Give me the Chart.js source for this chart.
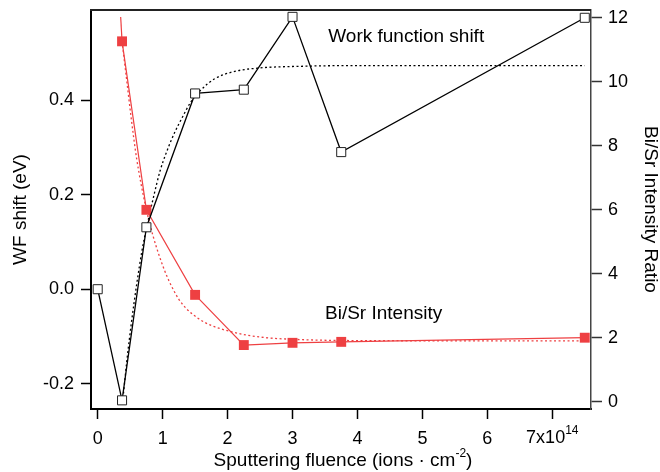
<!DOCTYPE html>
<html>
<head>
<meta charset="utf-8">
<script src="https://cdn.jsdelivr.net/npm/chart.js@4.4.1/dist/chart.umd.min.js"></script>
<style>
html, body { margin: 0; padding: 0; background: #fff; }
</style>
</head>
<body>
<canvas id="myChart" width="660" height="472"></canvas>
<script>
'use strict'
// ==> data
let fluence = [0, 0.375, 0.75, 1.5, 2.25, 3, 3.75, 7.5];
let wfShift = [0.0, -0.235, 0.131, 0.414, 0.422, 0.576, 0.29, 0.574];

let ratioX = [0.375, 0.75, 1.5, 2.25, 3, 3.75, 7.5];
let ratio = [11.27, 6.0, 3.34, 1.77, 1.84, 1.87, 2.0];
// short solid red piece above the first marker
let ratioLeadX = [0.354, 0.375];
let ratioLead = [12.03, 11.27];

// dotted fit curves
let wfFitX = [0.39, 0.45, 0.52, 0.6, 0.68, 0.76, 0.86, 0.96, 1.06, 1.18, 1.29, 1.43, 1.58, 1.8, 2.09, 2.5, 3, 4, 7.5];
let wfFit = [-0.23, -0.15, -0.07, 0.01, 0.08, 0.135, 0.195, 0.25, 0.29, 0.33, 0.36, 0.395, 0.42, 0.445, 0.46, 0.468, 0.471, 0.473, 0.473];
let ratioFitX = [0.375, 0.45, 0.514, 0.6, 0.75, 0.85, 0.95, 1.05, 1.14, 1.25, 1.37, 1.55, 1.73, 2.09, 2.5, 3, 4, 7.5];
let ratioFit = [11.27, 10.0, 8.9, 7.6, 6.0, 5.2, 4.55, 4.0, 3.6, 3.2, 2.9, 2.6, 2.4, 2.17, 2.02, 1.95, 1.91, 1.9];

let xTicks = [0, 1, 2, 3, 4, 5, 6, 7];
let wfTicks = [-0.2, 0.0, 0.2, 0.4];
let ratioTicks = [0, 2, 4, 6, 8, 10, 12];
//__________________________________________________________________________________==<
let fontFam = '"Liberation Sans", Arial, Helvetica, sans-serif';
let red = 'rgb(238, 64, 66)';

function pairs(xs, ys) {
    return xs.map((x, i) => ({ x: x, y: ys[i] }));
}

function drawParts(ctx, parts, cx, baseY) {
    let total = 0;
    parts.forEach(p => {
        ctx.font = p.size + 'px ' + fontFam;
        p.w = ctx.measureText(p.t).width;
        total += p.w;
    });
    let x = cx - total / 2;
    ctx.textAlign = 'left';
    ctx.textBaseline = 'alphabetic';
    parts.forEach(p => {
        ctx.font = p.size + 'px ' + fontFam;
        ctx.fillText(p.t, x, baseY - p.rise);
        x += p.w;
    });
}

let decorPlugin = {
    id: 'decor',
    afterDraw(chart) {
        let ctx = chart.ctx;
        let a = chart.chartArea;
        let xs = chart.scales.x;
        let y2 = chart.scales.y2;
        ctx.save();
        // top frame line
        ctx.strokeStyle = '#222';
        ctx.lineWidth = 2;
        ctx.beginPath();
        ctx.moveTo(a.left - 1, a.top);
        ctx.lineTo(a.right, a.top);
        ctx.stroke();

        ctx.fillStyle = '#000';
        // last x tick label with exponent
        drawParts(ctx, [
            { t: '7x10', size: 18, rise: 0 },
            { t: '14', size: 12, rise: 9 }
        ], xs.getPixelForValue(7), a.bottom + 34);

        // x axis title
        drawParts(ctx, [
            { t: 'Sputtering fluence (ions \u00b7 cm', size: 19, rise: 0 },
            { t: '-2', size: 12, rise: 9 },
            { t: ')', size: 19, rise: 0 }
        ], (a.left + a.right) / 2 + 2, a.bottom + 56.5);

        // labels inside the plot
        ctx.font = '19px ' + fontFam;
        ctx.textAlign = 'left';
        ctx.textBaseline = 'middle';
        ctx.fillText('Work function shift', xs.getPixelForValue(3.55), y2.getPixelForValue(11.42));
        ctx.fillText('Bi/Sr Intensity', xs.getPixelForValue(3.5), y2.getPixelForValue(2.745));
        ctx.restore();
    }
};
//__________________________________________________________________________________==<
let ctx = document.getElementById('myChart').getContext('2d');
let myChart = new Chart(ctx, {
    type: 'scatter',
    data: {
        datasets: [{
            label: 'WF shift',
            data: pairs(fluence, wfShift),
            yAxisID: 'y',
            showLine: true,
            borderColor: '#000',
            borderWidth: 1.3,
            pointStyle: 'rect',
            pointRadius: 6.4,
            pointBorderColor: '#222',
            pointBackgroundColor: '#fff',
            pointBorderWidth: 1,
            order: 1
        }, {
            label: 'WF fit',
            data: pairs(wfFitX, wfFit),
            yAxisID: 'y',
            showLine: true,
            borderColor: '#000',
            borderWidth: 1.3,
            borderDash: [2, 2.5],
            cubicInterpolationMode: 'monotone',
            pointRadius: 0,
            order: 4
        }, {
            label: 'Bi/Sr',
            data: pairs(ratioX, ratio),
            yAxisID: 'y2',
            showLine: true,
            borderColor: red,
            borderWidth: 1.2,
            pointStyle: 'rect',
            pointRadius: 7,
            pointBorderColor: red,
            pointBackgroundColor: red,
            pointBorderWidth: 0,
            order: 2
        }, {
            label: 'Bi/Sr lead',
            data: pairs(ratioLeadX, ratioLead),
            yAxisID: 'y2',
            showLine: true,
            borderColor: red,
            borderWidth: 1.2,
            pointRadius: 0,
            order: 3
        }, {
            label: 'Bi/Sr fit',
            data: pairs(ratioFitX, ratioFit),
            yAxisID: 'y2',
            showLine: true,
            borderColor: red,
            borderWidth: 1.3,
            borderDash: [2, 2.5],
            cubicInterpolationMode: 'monotone',
            pointRadius: 0,
            order: 5
        }]
    },
    options: {
        responsive: false,
        animation: false,
        layout: { padding: { top: 10, left: 0, right: 0, bottom: 0 } },
        plugins: {
            legend: { display: false },
            tooltip: { enabled: false }
        },
        scales: {
            x: {
                type: 'linear',
                min: -0.103,
                max: 7.596,
                afterBuildTicks: s => { s.ticks = xTicks.map(v => ({ value: v })); },
                afterFit: s => { s.height = 63; s.paddingLeft = 0; s.paddingRight = 0; },
                grid: { display: true, drawOnChartArea: false, drawTicks: true, tickLength: 10, tickWidth: 1.5, tickColor: '#000' },
                border: { display: true, color: '#000', width: 2 },
                ticks: {
                    color: '#000',
                    font: { family: fontFam, size: 18 },
                    padding: 9,
                    maxRotation: 0,
                    autoSkip: false,
                    callback: v => v === 7 ? '' : String(v)
                }
            },
            y: {
                type: 'linear',
                position: 'left',
                min: -0.2533,
                max: 0.5905,
                afterBuildTicks: s => { s.ticks = wfTicks.map(v => ({ value: v })); },
                afterFit: s => { s.width = 91; s.paddingTop = 0; s.paddingBottom = 0; },
                grid: { display: true, drawOnChartArea: false, drawTicks: true, tickLength: 10, tickWidth: 1.5, tickColor: '#000' },
                border: { display: true, color: '#000', width: 2 },
                ticks: {
                    color: '#000',
                    font: { family: fontFam, size: 18 },
                    padding: 7,
                    autoSkip: false,
                    callback: v => (Math.round(v * 10) / 10 + 0).toFixed(1)
                },
                title: {
                    display: true,
                    text: 'WF shift (eV)',
                    color: '#000',
                    font: { family: fontFam, size: 19, lineHeight: 1 },
                    padding: { top: 11, bottom: 0 }
                }
            },
            y2: {
                type: 'linear',
                position: 'right',
                min: -0.23,
                max: 12.25,
                afterBuildTicks: s => { s.ticks = ratioTicks.map(v => ({ value: v })); },
                afterFit: s => { s.width = 69; s.paddingTop = 0; s.paddingBottom = 0; },
                grid: { display: true, drawOnChartArea: false, drawTicks: true, tickLength: 11, tickWidth: 1.5, tickColor: '#333' },
                border: { display: true, color: '#444', width: 1.5 },
                ticks: {
                    color: '#000',
                    font: { family: fontFam, size: 18 },
                    padding: 6,
                    autoSkip: false,
                    callback: v => String(v)
                },
                title: {
                    display: true,
                    text: 'Bi/Sr Intensity Ratio',
                    color: '#000',
                    font: { family: fontFam, size: 19, lineHeight: 1 },
                    padding: { top: 0, bottom: 0 }
                }
            }
        }
    },
    plugins: [decorPlugin]
});
</script>
</body>
</html>
